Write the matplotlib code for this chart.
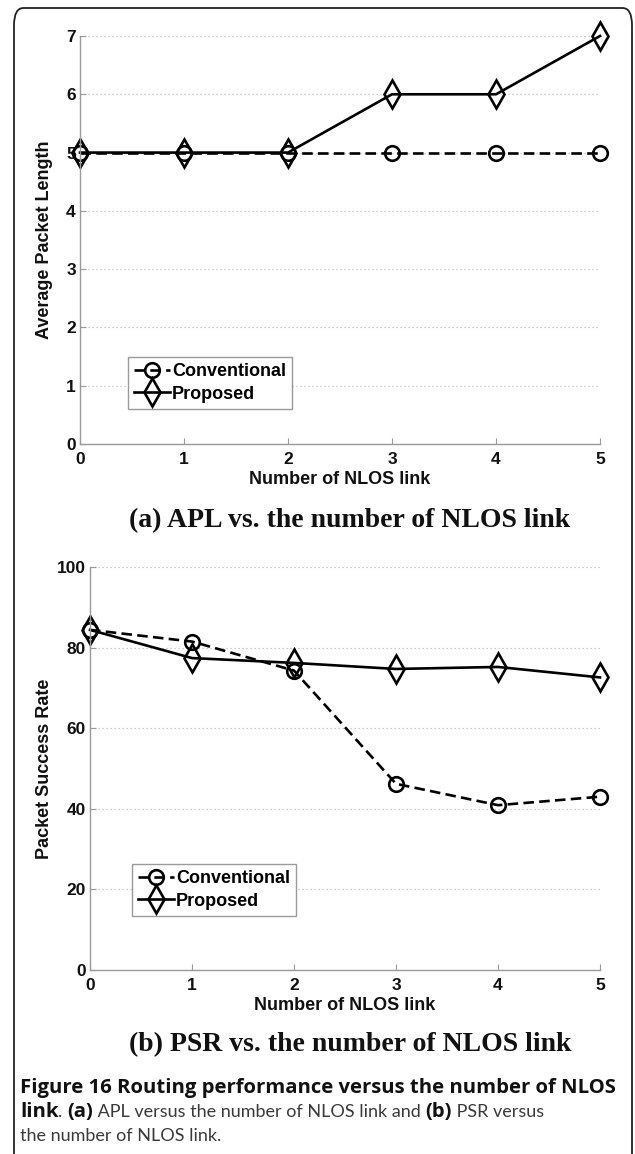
import matplotlib
matplotlib.use("Agg")
import matplotlib.pyplot as plt
from matplotlib.patches import FancyBboxPatch

# data
nlos = [0, 1, 2, 3, 4, 5]
apl_conventional = [5, 5, 5, 5, 5, 5]
apl_proposed = [5, 5, 5, 6, 6, 7]
psr_conventional = [84.4, 81.5, 74.3, 46.2, 40.9, 43.0]
psr_proposed = [84.4, 77.4, 76.2, 74.7, 75.2, 72.6]
series_names = ["Conventional", "Proposed"]
apl_ticks = [0, 1, 2, 3, 4, 5, 6, 7]
psr_ticks = [0, 20, 40, 60, 80, 100]

W, H = 635, 1154
fig = plt.figure(figsize=(W / 100, H / 100), dpi=100)

SANS = ["Liberation Sans", "DejaVu Sans"]
SERIF = ["Liberation Serif", "DejaVu Serif"]
CAP_BOLD = ["Open Sans", "DejaVu Sans"]
CAP_REG = ["Lato", "DejaVu Sans"]


def px_axes(x0, y_top, x1, y_bot):
    return fig.add_axes([x0 / W, 1 - y_bot / H, (x1 - x0) / W, (y_bot - y_top) / H])


def style_axes(ax, yticks, ylabel, label_x, legend_anchor):
    ax.set_xlim(0, 5)
    ax.set_ylim(yticks[0], yticks[-1])
    ax.set_xticks(nlos)
    ax.set_yticks(yticks)
    for s in ["top", "right"]:
        ax.spines[s].set_visible(False)
    for s in ["left", "bottom"]:
        ax.spines[s].set_color("#9a9a9a")
        ax.spines[s].set_linewidth(1.0)
    ax.tick_params(direction="in", length=4, color="#9a9a9a")
    ax.tick_params(axis="y", pad=3)
    ax.tick_params(axis="x", pad=6)
    for lab in ax.get_xticklabels() + ax.get_yticklabels():
        lab.set_fontfamily(SANS)
        lab.set_fontweight("bold")
        lab.set_fontsize(12.5)
        lab.set_color("#111111")
    ax.yaxis.grid(True, linestyle=(0, (1, 2.2)), color="#bdbdbd", linewidth=0.9)
    ax.set_axisbelow(True)
    ax.set_xlabel("Number of NLOS link", labelpad=3, family=SANS,
                  fontweight="bold", fontsize=13, color="#111111")
    ax.set_ylabel(ylabel, family=SANS, fontweight="bold",
                  fontsize=13, color="#111111")
    ax.yaxis.set_label_coords(label_x, 0.5)
    leg = ax.legend(loc="lower left", bbox_to_anchor=legend_anchor, fancybox=False,
                    edgecolor="#9a9a9a", framealpha=1, handlelength=2.0,
                    handletextpad=0.1, borderpad=0.35, labelspacing=0.3,
                    borderaxespad=0,
                    prop=dict(family=SANS, weight="bold", size=13))
    leg.get_frame().set_linewidth(1.0)


def draw(ax, conv, prop):
    ax.plot(nlos, conv, color="black", linestyle=(0, (4, 2)), linewidth=1.9,
            marker="o", markersize=10.5, markerfacecolor="none", markeredgewidth=1.9,
            label=series_names[0], clip_on=False)
    ax.plot(nlos, prop, color="black", linestyle="-", linewidth=1.9,
            marker="d", markersize=14, markerfacecolor="none", markeredgewidth=1.9,
            label=series_names[1], clip_on=False)


# panel (a)
ax1 = px_axes(80, 36, 600, 444)
draw(ax1, apl_conventional, apl_proposed)
style_axes(ax1, apl_ticks, "Average Packet Length", (53 - 80) / 520, (0.092, 0.086))

# panel (b)
ax2 = px_axes(90, 567, 600, 970)
draw(ax2, psr_conventional, psr_proposed)
style_axes(ax2, psr_ticks, "Packet Success Rate", (53 - 90) / 510, (0.082, 0.134))

fig.text(350 / W, 1 - 521 / H, "(a) APL vs. the number of NLOS link", ha="center",
         va="center", family=SERIF, fontweight="bold", fontsize=20, color="#111111")
fig.text(350 / W, 1 - 1045 / H, "(b) PSR vs. the number of NLOS link", ha="center",
         va="center", family=SERIF, fontweight="bold", fontsize=20, color="#111111")

# caption with mixed bold / regular runs, chained on a shared baseline
overlay = fig.add_axes([0, 0, 1, 1], facecolor="none")
overlay.set_axis_off()
bold_size = 14.6
reg_size = 13
cap_lines = [
    [("Figure 16 Routing performance versus the number of NLOS", "bold")],
    [("link", "bold"), (". ", "normal"), ("(a)", "bold"),
     (" APL versus the number of NLOS link and ", "normal"), ("(b)", "bold"),
     (" PSR versus", "normal")],
    [("the number of NLOS link.", "normal")],
]
line_y = [1093, 1117, 1141]
for runs, y in zip(cap_lines, line_y):
    prev = None
    yf = 1 - y / H
    for txt, wt in runs:
        bold = wt == "bold"
        kw = dict(family=CAP_BOLD if bold else CAP_REG, fontweight=wt,
                  fontsize=bold_size if bold else reg_size,
                  color="#111111" if bold else "#3a3a3a",
                  ha="left", va="baseline")
        if prev is None:
            prev = overlay.text(20 / W, yf, txt, transform=fig.transFigure, **kw)
        else:
            prev = overlay.annotate(txt, xy=(1, yf),
                                    xycoords=(prev, "figure fraction"), **kw)

# outer rounded frame (open at the bottom)
frame = FancyBboxPatch((14 / W, -0.05), (632 - 14) / W, (1 - 8 / H) + 0.05,
                       boxstyle="round,pad=0,rounding_size=0.015",
                       transform=fig.transFigure, fill=False, edgecolor="#222222",
                       linewidth=1.3, clip_on=False)
fig.patches.append(frame)

fig.savefig("out.png", dpi=100)
